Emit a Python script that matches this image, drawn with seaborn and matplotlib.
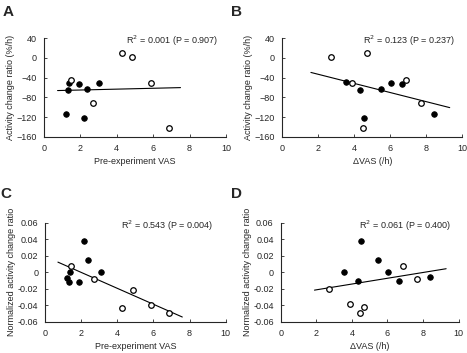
import numpy as np
import pandas as pd
import matplotlib
matplotlib.use("Agg")
import matplotlib.pyplot as plt
import seaborn as sns

# panel A: pre-experiment VAS vs activity change ratio
a_x = [1.34, 1.38, 1.93, 2.37, 3.01, 1.23, 2.19, 1.49, 2.67, 4.30, 4.85, 5.90, 6.88]
a_y = [-64, -50, -53, -62, -51, -114, -122, -45, -92, 10, 2, -50, -142]
a_grp = ["filled"] * 7 + ["open"] * 6

# panel B: delta VAS vs activity change ratio
b_x = [3.52, 4.33, 4.55, 5.50, 6.04, 6.65, 8.41, 2.69, 3.87, 4.69, 4.48, 6.87, 7.70]
b_y = [-49, -64, -122, -62, -51, -53, -114, 2, -50, 10, -142, -45, -91]
b_grp = ["filled"] * 7 + ["open"] * 6

# panel C: pre-experiment VAS vs normalized activity change ratio
c_x = [2.15, 2.35, 3.07, 1.37, 1.22, 1.31, 1.89, 1.44, 2.69, 4.28, 4.85, 5.89, 6.87]
c_y = [0.038, 0.015, 0.0, 0.0, -0.007, -0.012, -0.012, 0.007, -0.008, -0.043, -0.022, -0.040, -0.050]
c_grp = ["filled"] * 7 + ["open"] * 6

# panel D: delta VAS vs normalized activity change ratio
d_x = [3.55, 4.36, 4.51, 5.49, 6.03, 6.63, 8.40, 2.69, 3.89, 4.47, 4.70, 6.88, 7.69]
d_y = [0.0, -0.011, 0.038, 0.015, 0.0, -0.011, -0.006, -0.021, -0.039, -0.049, -0.042, 0.007, -0.008]
d_grp = ["filled"] * 7 + ["open"] * 6

# x-range over which the regression line is drawn
fit_range = {"A": [0.75, 7.5], "B": [1.6, 9.3], "C": [0.7, 7.6], "D": [1.9, 9.3]}

stats_text = {"A": "R$^2$ = 0.001 (P = 0.907)", "B": "R$^2$ = 0.123 (P = 0.237)",
              "C": "R$^2$ = 0.543 (P = 0.004)", "D": "R$^2$ = 0.061 (P = 0.400)"}

x_labels = {"A": "Pre-experiment VAS", "B": "\u0394VAS (/h)",
            "C": "Pre-experiment VAS", "D": "\u0394VAS (/h)"}
y_labels = {"A": "Activity change ratio (%/h)", "B": "Activity change ratio (%/h)",
            "C": "Normalized activity change ratio", "D": "Normalized activity change ratio"}

sns.set_style("ticks")
plt.rcParams["font.family"] = ["Liberation Sans", "DejaVu Sans"]
plt.rcParams["xtick.direction"] = "in"
plt.rcParams["ytick.direction"] = "in"

fig = plt.figure(figsize=(4.67, 3.53), dpi=100)
positions = {"A": [0.094, 0.612, 0.39, 0.28], "B": [0.604, 0.612, 0.386, 0.28],
             "C": [0.097, 0.089, 0.386, 0.28], "D": [0.601, 0.089, 0.381, 0.28]}
letter_pos = {"A": (0.005, 0.965), "B": (0.494, 0.965), "C": (0.0, 0.45), "D": (0.494, 0.45)}
text_x = {"A": 0.96, "B": 0.96, "C": 0.93, "D": 0.96}

panels = {"A": (a_x, a_y, a_grp), "B": (b_x, b_y, b_grp),
          "C": (c_x, c_y, c_grp), "D": (d_x, d_y, d_grp)}

for key, (xs, ys, grp) in panels.items():
    ax = fig.add_axes(positions[key])
    df = pd.DataFrame({"x": xs, "y": ys, "grp": grp})

    # regression line over all points
    slope, intercept = np.polyfit(df["x"], df["y"], 1)
    lx = np.array(fit_range[key])
    sns.lineplot(x=lx, y=slope * lx + intercept, ax=ax, color="black", lw=0.8)

    filled = df[df["grp"] == "filled"]
    opened = df[df["grp"] == "open"]
    sns.scatterplot(data=filled, x="x", y="y", ax=ax, s=16, color="black",
                    edgecolor="black", linewidth=0.6, zorder=3)
    sns.scatterplot(data=opened, x="x", y="y", ax=ax, s=16, color="white",
                    edgecolor="black", linewidth=0.9, zorder=3)

    ax.set_xlim(0, 10)
    ax.set_xticks(range(0, 11, 2))
    if key in ("A", "B"):
        ax.set_ylim(-160, 40)
        ax.set_yticks(range(-160, 41, 40))
    else:
        ax.set_ylim(-0.06, 0.06)
        ticks = np.round(np.arange(-0.06, 0.061, 0.02), 2)
        ax.set_yticks(ticks)
        ax.set_yticklabels(["0" if t == 0 else f"{t:.2f}" for t in ticks])
    ax.set_xlabel(x_labels[key], fontsize=6.5, labelpad=3)
    ax.set_ylabel(y_labels[key], fontsize=6.5, labelpad=1)
    ax.tick_params(labelsize=6.5, length=2.5, width=0.6, pad=5)
    for s in ax.spines.values():
        s.set_linewidth(0.8)
    sns.despine(ax=ax)
    ax.text(text_x[key], 0.97, stats_text[key], transform=ax.transAxes, ha="right", va="center",
            fontsize=6.5)
    fig.text(*letter_pos[key], key, fontsize=11, fontweight="bold", va="center")

fig.savefig("out.png", dpi=100)
